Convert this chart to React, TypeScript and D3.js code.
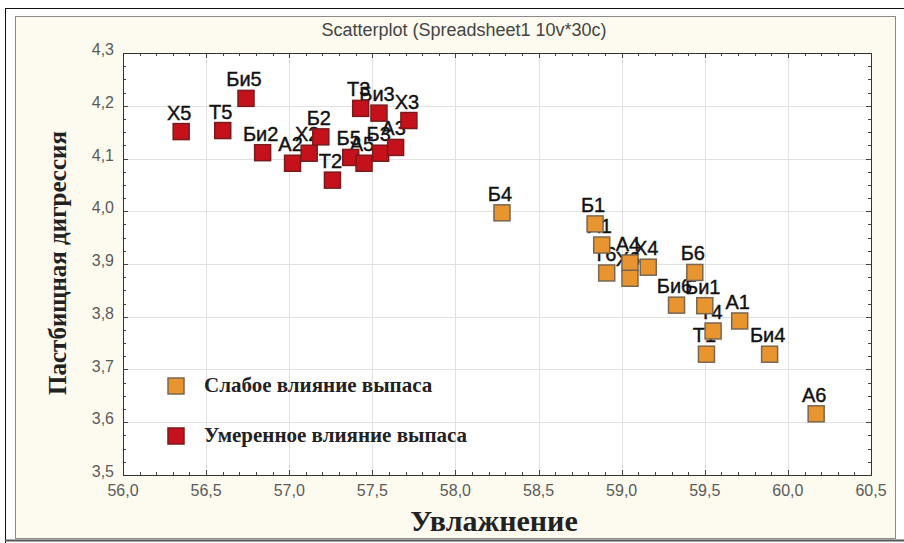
import * as d3 from "d3";
import { useEffect, useRef } from "react";

// weak grazing influence (orange)
const weakLabels = ["Б4", "Б1", "Х1", "Т6", "А4", "Х6", "Х4", "Б6", "Би6", "Би1", "А1", "Т4", "Т1", "Би4", "А6"];
const weakX = [58.28, 58.84, 58.88, 58.91, 59.05, 59.05, 59.16, 59.44, 59.33, 59.5, 59.71, 59.55, 59.51, 59.89, 60.17];
const weakY = [3.997, 3.976, 3.936, 3.883, 3.902, 3.873, 3.894, 3.884, 3.822, 3.821, 3.792, 3.773, 3.729, 3.729, 3.616];

// moderate grazing influence (red)
const modLabels = ["Х5", "Т5", "Би5", "Би2", "А2", "Х2", "Б2", "Т2", "Б5", "А5", "Т3", "Би3", "Б3", "А3", "Х3"];
const modX = [56.35, 56.6, 56.74, 56.84, 57.02, 57.12, 57.19, 57.26, 57.37, 57.45, 57.43, 57.54, 57.55, 57.64, 57.72];
const modY = [4.151, 4.153, 4.214, 4.111, 4.091, 4.11, 4.141, 4.059, 4.102, 4.091, 4.195, 4.186, 4.11, 4.121, 4.172];

const xTicks = [56.0, 56.5, 57.0, 57.5, 58.0, 58.5, 59.0, 59.5, 60.0, 60.5];
const yTicks = [3.5, 3.6, 3.7, 3.8, 3.9, 4.0, 4.1, 4.2, 4.3];

const seriesNames = ["Слабое влияние выпаса", "Умеренное влияние выпаса"];
const seriesFill = ["#e8952f", "#c4111c"];
const seriesStroke = ["#7a6650", "#7a1a1a"];

const App = () => {
  const svgRef = useRef(null);

  useEffect(() => {
    document.body.style.margin = "0";
    const w = 904;
    const h = 543;
    const svg = d3.select(svgRef.current).attr("width", w).attr("height", h);
    svg.selectAll("*").remove();

    // frame + cream panel
    svg.append("rect").attr("width", w).attr("height", h).attr("fill", "#ffffff");
    svg.append("rect").attr("x", 15.5).attr("y", 16.5).attr("width", 880).attr("height", 522)
      .attr("fill", "#fdfbf0").attr("stroke", "#8a8a8a");
    svg.append("line").attr("x1", 5).attr("x2", w).attr("y1", 8.5).attr("y2", 8.5).attr("stroke", "#111");
    svg.append("line").attr("x1", 5.5).attr("x2", 5.5).attr("y1", 8).attr("y2", h).attr("stroke", "#111");
    svg.append("line").attr("x1", 5).attr("x2", w).attr("y1", 540.5).attr("y2", 540.5).attr("stroke", "#555").attr("stroke-width", 2);

    const xScale = d3.scaleLinear().domain([56, 60.5]).range([123, 871]);
    const yScale = d3.scaleLinear().domain([3.5, 4.3]).range([475, 53]);
    const [x0, x1] = xScale.range();
    const [y0, y1] = yScale.range();

    // plot area
    svg.append("rect").attr("x", x0).attr("y", y1).attr("width", x1 - x0).attr("height", y0 - y1).attr("fill", "#fff");

    // grid
    const grid = svg.append("g").attr("stroke", "#e2e2e2").attr("stroke-width", 1);
    xTicks.slice(1, -1).forEach((t) => {
      grid.append("line").attr("x1", Math.round(xScale(t)) + 0.5).attr("x2", Math.round(xScale(t)) + 0.5).attr("y1", y1).attr("y2", y0);
    });
    yTicks.slice(1, -1).forEach((t) => {
      grid.append("line").attr("y1", Math.round(yScale(t)) + 0.5).attr("y2", Math.round(yScale(t)) + 0.5).attr("x1", x0).attr("x2", x1);
    });

    // inward ticks on all sides
    const tk = svg.append("g").attr("stroke", "#444").attr("stroke-width", 1);
    d3.range(56, 60.5001, 0.1).forEach((t) => {
      const major = Math.abs(t * 2 - Math.round(t * 2)) < 1e-6;
      const len = major ? 5 : 3;
      const px = Math.round(xScale(t)) + 0.5;
      tk.append("line").attr("x1", px).attr("x2", px).attr("y1", y0).attr("y2", y0 - len);
      tk.append("line").attr("x1", px).attr("x2", px).attr("y1", y1).attr("y2", y1 + len);
    });
    d3.range(3.5, 4.3001, 0.025).forEach((t) => {
      const major = Math.abs(t * 10 - Math.round(t * 10)) < 1e-6;
      const len = major ? 5 : 3;
      const py = Math.round(yScale(t)) + 0.5;
      tk.append("line").attr("y1", py).attr("y2", py).attr("x1", x0).attr("x2", x0 + len);
      tk.append("line").attr("y1", py).attr("y2", py).attr("x1", x1).attr("x2", x1 - len);
    });

    svg.append("rect").attr("x", x0 + 0.5).attr("y", y1 + 0.5).attr("width", x1 - x0).attr("height", y0 - y1)
      .attr("fill", "none").attr("stroke", "#333");

    // tick labels
    const fmt = (v: number) => d3.format(".1f")(v).replace(".", ",");
    svg.append("g").selectAll("text").data(xTicks).enter().append("text")
      .attr("x", (d) => xScale(d)).attr("y", y0 + 21)
      .attr("text-anchor", "middle").attr("font-family", "Liberation Sans, Arial").attr("font-size", 16)
      .attr("fill", "#5a5a5a").text(fmt);
    svg.append("g").selectAll("text").data(yTicks).enter().append("text")
      .attr("x", x0 - 9).attr("y", (d) => yScale(d) + 2)
      .attr("text-anchor", "end").attr("font-family", "Liberation Sans, Arial").attr("font-size", 16)
      .attr("fill", "#5a5a5a").text(fmt);

    // title
    svg.append("text").attr("x", 464).attr("y", 36).attr("text-anchor", "middle")
      .attr("font-family", "Liberation Sans, Arial").attr("font-size", 18).attr("fill", "#444")
      .text("Scatterplot (Spreadsheet1 10v*30c)");

    // axis titles
    svg.append("text").attr("x", 494).attr("y", 531).attr("text-anchor", "middle")
      .attr("font-family", "Liberation Serif, Times New Roman").attr("font-weight", "bold").attr("font-size", 30)
      .attr("fill", "#222").text("Увлажнение");
    svg.append("text").attr("transform", "translate(66,263) rotate(-90)").attr("text-anchor", "middle")
      .attr("font-family", "Liberation Serif, Times New Roman").attr("font-weight", "bold").attr("font-size", 25)
      .attr("fill", "#222").text("Пастбищная дигрессия");

    // points: labels first, squares on top
    const series = [
      { labels: weakLabels, xs: weakX, ys: weakY },
      { labels: modLabels, xs: modX, ys: modY },
    ];
    const size = 16;
    series.forEach((s) => {
      const pts = s.labels.map((l, j) => ({ label: l, x: s.xs[j], y: s.ys[j] }));
      svg.append("g").selectAll("text").data(pts).enter().append("text")
        .attr("x", (d) => xScale(d.x) - 2).attr("y", (d) => yScale(d.y) - 12)
        .attr("text-anchor", "middle").attr("font-family", "Liberation Sans, Arial").attr("font-size", 20)
        .attr("fill", "#111").attr("stroke", "#111").attr("stroke-width", 0.4).text((d) => d.label);
    });
    series.forEach((s, i) => {
      const pts = s.labels.map((l, j) => ({ label: l, x: s.xs[j], y: s.ys[j] }));
      svg.append("g").selectAll("rect").data(pts).enter().append("rect")
        .attr("x", (d) => xScale(d.x) - size / 2).attr("y", (d) => yScale(d.y) - size / 2)
        .attr("width", size).attr("height", size)
        .attr("fill", seriesFill[i]).attr("stroke", seriesStroke[i]).attr("stroke-width", 1.5);
    });

    // legend
    seriesNames.forEach((name, i) => {
      const ly = 386 + i * 50;
      svg.append("rect").attr("x", 168).attr("y", ly - 8).attr("width", size).attr("height", size)
        .attr("fill", seriesFill[i]).attr("stroke", seriesStroke[i]).attr("stroke-width", 1.5);
      svg.append("text").attr("x", 204).attr("y", ly + 6)
        .attr("font-family", "Liberation Serif, Times New Roman").attr("font-weight", "bold").attr("font-size", 21)
        .attr("fill", "#222").text(name);
    });
  }, []);

  return (
    <div>
      <svg ref={svgRef} style={{ display: "block" }}></svg>
    </div>
  );
};

export default App;
